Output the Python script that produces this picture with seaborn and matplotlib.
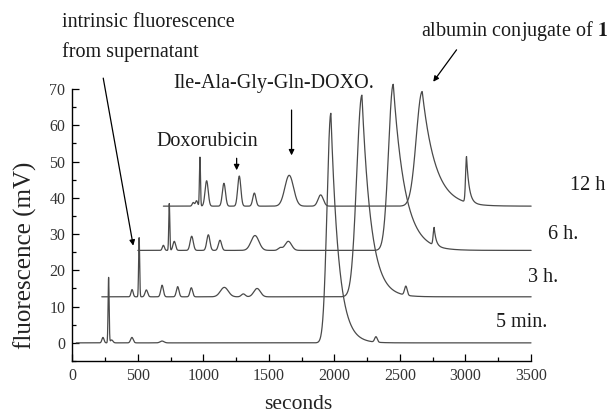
import numpy as np
import pandas as pd
import matplotlib
matplotlib.use("Agg")
import matplotlib.pyplot as plt
import seaborn as sns
from matplotlib.ticker import MultipleLocator

# ---- data ----
trace_names = ["5 min.", "3 h.", "6 h.", "12 h"]
shift_x = [0, 235, 468, 700]          # waterfall offset in seconds
shift_y = [0.0, 12.7, 25.5, 37.7]     # baseline of each trace (mV)
start_x = [30, 225, 500, 695]         # first recorded point (absolute s)
end_x = [3500, 3720, 3940, 4200]      # last recorded point (absolute s)

# peak retention (s, relative to run), height (mV), width (s), tail (s)
pos_5min = [234, 277, 300, 455, 685, 1973, 2317]
hgt_5min = [1.5, 18.0, 0.8, 1.5, 0.5, 63.3, 1.5]
wid_5min = [8, 4, 10, 10, 15, 29, 10]
tail_5min = [0, 0, 0, 0, 0, 60, 0]

pos_3h = [221, 275, 330, 450, 569, 673, 925, 1070, 1175, 1975, 2310]
hgt_3h = [2.0, 16.3, 1.9, 3.2, 2.8, 2.5, 2.6, 0.8, 2.3, 55.6, 2.5]
wid_3h = [8, 4, 10, 10, 10, 10, 30, 15, 25, 40, 10]
tail_3h = [0, 0, 0, 0, 0, 0, 0, 0, 0, 70, 0]

pos_6h = [227, 272, 310, 443, 570, 659, 926, 1117, 1180, 1981, 2293]
hgt_6h = [1.4, 12.9, 2.5, 3.9, 4.3, 2.8, 4.1, 0.7, 2.5, 45.8, 4.9]
wid_6h = [8, 4, 10, 12, 12, 12, 30, 15, 25, 36, 7]
tail_6h = [0, 0, 0, 0, 0, 0, 0, 0, 0, 90, 15]

pos_12h = [223, 248, 274, 325, 457, 574, 689, 955, 1195, 1970, 2308]
hgt_12h = [1.0, 1.5, 13.5, 7.0, 6.3, 8.3, 3.6, 8.5, 3.1, 31.6, 12.6]
wid_12h = [8, 8, 4, 12, 12, 12, 12, 33, 20, 45, 7]
tail_12h = [0, 0, 0, 0, 0, 0, 0, 0, 0, 100, 20]

peak_tables = [
    (pos_5min, hgt_5min, wid_5min, tail_5min),
    (pos_3h, hgt_3h, wid_3h, tail_3h),
    (pos_6h, hgt_6h, wid_6h, tail_6h),
    (pos_12h, hgt_12h, wid_12h, tail_12h),
]


def chromatogram(t, pos, hgt, wid, tail):
    y = np.zeros_like(t, dtype=float)
    for c, h, w, tau in zip(pos, hgt, wid, tail):
        dx = t - c
        left = h * np.exp(-0.5 * (dx / w) ** 2)
        if tau > 0:
            right = h * np.exp(-np.clip(dx, 0, None) / tau)
            y += np.where(dx < 0, left, right)
        else:
            y += left
    return y


frames = []
for name, sx, sy, s0, s1, tbl in zip(trace_names, shift_x, shift_y, start_x, end_x, peak_tables):
    t_abs = np.arange(s0, s1 + 1, 1.0)
    sig = sy + chromatogram(t_abs - sx, *tbl)
    frames.append(pd.DataFrame({"t": t_abs, "signal": sig, "trace": name}))
df = pd.concat(frames, ignore_index=True)

# ---- drawing ----
sns.set_style("ticks")
plt.rcParams["font.family"] = ["Liberation Serif", "DejaVu Serif"]
plt.rcParams["mathtext.fontset"] = "stix"

fig = plt.figure(figsize=(6.15, 4.15), dpi=100)
ax = fig.add_axes([72.3 / 615, 54 / 415, (531 - 72.3) / 615, (361 - 89) / 415])

line_col = "#4a4a4a"
sns.lineplot(data=df, x="t", y="signal", hue="trace", palette=[line_col] * 4,
             estimator=None, sort=False, legend=False, lw=0.9, ax=ax)
for ln in ax.lines:
    ln.set_clip_on(False)

ax.set_xlim(0, 3500)
ax.set_ylim(-5, 70)
ax.xaxis.set_major_locator(MultipleLocator(500))
ax.xaxis.set_minor_locator(MultipleLocator(250))
ax.yaxis.set_major_locator(MultipleLocator(10))
ax.yaxis.set_minor_locator(MultipleLocator(5))
ax.tick_params(which="both", direction="in", color="black", width=0.9)
ax.tick_params(which="major", length=5, labelsize=11.5, labelcolor="#333333", pad=5)
ax.tick_params(which="minor", length=3)
sns.despine(ax=ax)
for sp in ("left", "bottom"):
    ax.spines[sp].set_linewidth(1.0)
    ax.spines[sp].set_color("black")

ax.set_xlabel("seconds", fontsize=15.5, color="#222222")
ax.set_ylabel("fluorescence (mV)", fontsize=18, color="#222222")
ax.xaxis.set_label_coords(0.492, -0.125)
ax.yaxis.set_label_coords(-0.078, 0.39)

tfs = 14.5
tcol = "#1a1a1a"
# trace labels
label_x = [3430, 3594, 3747, 3930]
label_y = [5.5, 18.0, 30.0, 43.4]
for name, lx, ly in zip(trace_names, label_x, label_y):
    ax.text(lx, ly, name, ha="center", va="center", fontsize=tfs, color=tcol)

arrow_kw = dict(arrowstyle="-|>", color="black", lw=0.9, mutation_scale=8,
                shrinkA=0, shrinkB=0)

ax.text(-81, 88.4, "intrinsic fluorescence", ha="left", va="center", fontsize=tfs, color=tcol)
ax.text(-81, 80.3, "from supernatant", ha="left", va="center", fontsize=tfs, color=tcol)
ax.annotate("", xy=(465, 26.8), xytext=(236, 73.0), arrowprops=arrow_kw,
            annotation_clip=False)

ax.text(644, 55.4, "Doxorubicin", ha="left", va="center", fontsize=tfs, color=tcol)
ax.annotate("", xy=(1254, 47.6), xytext=(1254, 50.9), arrowprops=arrow_kw,
            annotation_clip=False)

ax.text(768, 71.4, "Ile-Ala-Gly-Gln-DOXO.", ha="left", va="center", fontsize=tfs, color=tcol)
ax.annotate("", xy=(1673, 51.7), xytext=(1673, 64.2), arrowprops=arrow_kw,
            annotation_clip=False)

ax.text(2657, 85.9, r"albumin conjugate of $\mathbf{1}$", ha="left", va="center",
        fontsize=tfs, color=tcol)
ax.annotate("", xy=(2754, 72.0), xytext=(2932, 80.8), arrowprops=arrow_kw,
            annotation_clip=False)

fig.savefig("out.png", dpi=100)
